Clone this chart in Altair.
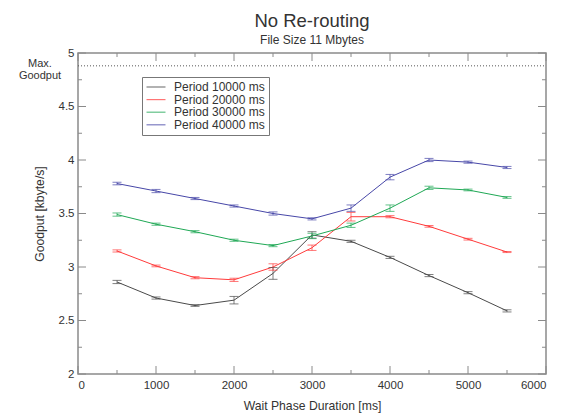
import altair as alt
import pandas as pd

# ---------------- data ----------------
wait_ms = [500, 1000, 1500, 2000, 2500, 3000, 3500, 4000, 4500, 5000, 5500]

series_names = ["Period 10000 ms", "Period 20000 ms", "Period 30000 ms", "Period 40000 ms"]
series_colors = ["#4a4a4a", "#ff3b3b", "#1fa855", "#4747a8"]

goodput_10000 = [2.86, 2.71, 2.64, 2.69, 2.94, 3.30, 3.24, 3.09, 2.92, 2.76, 2.59]
err_10000 = [0.015, 0.01, 0.008, 0.035, 0.055, 0.03, 0.01, 0.01, 0.01, 0.01, 0.01]

goodput_20000 = [3.15, 3.01, 2.90, 2.88, 3.00, 3.18, 3.47, 3.47, 3.38, 3.26, 3.14]
err_20000 = [0.01, 0.008, 0.01, 0.015, 0.03, 0.025, 0.04, 0.01, 0.008, 0.008, 0.005]

goodput_30000 = [3.49, 3.40, 3.33, 3.25, 3.20, 3.29, 3.39, 3.55, 3.74, 3.72, 3.65]
err_30000 = [0.015, 0.01, 0.01, 0.01, 0.01, 0.025, 0.02, 0.03, 0.015, 0.008, 0.008]

goodput_40000 = [3.78, 3.71, 3.64, 3.57, 3.50, 3.45, 3.55, 3.84, 4.00, 3.98, 3.93]
err_40000 = [0.012, 0.015, 0.01, 0.01, 0.015, 0.01, 0.03, 0.025, 0.015, 0.01, 0.01]

max_goodput = [4.88]
max_goodput_label = "Max.\nGoodput"

x_major_ticks = [0, 1000, 2000, 3000, 4000, 5000, 6000]
x_minor_ticks = [500, 1500, 2500, 3500, 4500, 5500]
y_major_ticks = [2, 2.5, 3, 3.5, 4, 4.5, 5]
y_minor_ticks = [2.25, 2.75, 3.25, 3.75, 4.25, 4.75]

# ---------------- table ----------------
rows = []
for name, vals, errs in zip(
    series_names,
    [goodput_10000, goodput_20000, goodput_30000, goodput_40000],
    [err_10000, err_20000, err_30000, err_40000],
):
    for w, v, e in zip(wait_ms, vals, errs):
        rows.append({"series": name, "wait": w, "value": v, "lo": v - e, "hi": v + e})
df = pd.DataFrame(rows)

W, H = 468, 321
FONT = "Liberation Sans"
TXT = "#333333"
FRAME = "#8a8a8a"

xscale = alt.Scale(domain=[0, 6000], nice=False, zero=False)
yscale = alt.Scale(domain=[2, 5], nice=False, zero=False)

xaxis = alt.Axis(
    values=x_major_ticks,
    format="d",
    ticks=False,
    domain=False,
    grid=False,
    labelPadding=5,
    labelFontSize=11.5,
    labelFont=FONT,
    labelColor=TXT,
    title="Wait Phase Duration [ms]",
    titleFont=FONT,
    titleFontSize=12.2,
    titleFontWeight="normal",
    titleColor=TXT,
    titlePadding=9,
)
yaxis = alt.Axis(
    values=y_major_ticks,
    format=".1~f",
    ticks=False,
    domain=False,
    grid=False,
    labelPadding=4,
    labelFontSize=11.5,
    labelFont=FONT,
    labelColor=TXT,
    title="Goodput [kbyte/s]",
    titleFont=FONT,
    titleFontSize=12.2,
    titleFontWeight="normal",
    titleColor=TXT,
    titlePadding=12,
)


def X(field):
    return alt.X(field, scale=xscale, axis=xaxis)


def Y(field):
    return alt.Y(field, scale=yscale, axis=yaxis)


cscale = alt.Scale(domain=series_names, range=series_colors)
color = alt.Color(
    "series:N",
    scale=cscale,
    legend=alt.Legend(
        title=None,
        orient="none",
        legendX=64,
        legendY=24,
        direction="vertical",
        symbolType="M-2,0H2",
        symbolSize=90,
        symbolStrokeWidth=1.2,
        symbolOffset=4,
        labelFontSize=12,
        labelFont=FONT,
        labelColor=TXT,
        rowPadding=0.6,
        strokeColor="#777777",
        fillColor="white",
        padding=4,
        labelOffset=12,
    ),
)

base = alt.Chart(df)

lines = base.mark_line(strokeWidth=1).encode(x=X("wait:Q"), y=Y("value:Q"), color=color)

err_bars = base.mark_rule(strokeWidth=1, opacity=0.7).encode(
    x=X("wait:Q"), y=Y("lo:Q"), y2="hi:Q", color=color
)
caps_lo = base.mark_tick(orient="horizontal", size=9, thickness=1, opacity=0.7).encode(
    x=X("wait:Q"), y=Y("lo:Q"), color=color
)
caps_hi = base.mark_tick(orient="horizontal", size=9, thickness=1, opacity=0.7).encode(
    x=X("wait:Q"), y=Y("hi:Q"), color=color
)

maxdf = pd.DataFrame({"m": max_goodput, "label": [max_goodput_label]})
max_line = alt.Chart(maxdf).mark_rule(color="#555555", strokeDash=[1, 2], strokeWidth=1).encode(
    y=Y("m:Q"), x=alt.value(0), x2=alt.value(W)
)
max_text = alt.Chart(maxdf).mark_text(
    align="center", baseline="middle", fontSize=11, font=FONT, color=TXT, lineBreak="\n", lineHeight=12, dy=-2
).encode(y=Y("m:Q"), x=alt.value(-38), text="label:N")


# ---------------- inside ticks ----------------
def xticks(vals, length):
    d = pd.DataFrame({"t": vals})
    bottom = alt.Chart(d).mark_rule(color=FRAME, strokeWidth=1).encode(
        x=X("t:Q"), y=alt.value(H), y2=alt.value(H - length)
    )
    top = alt.Chart(d).mark_rule(color=FRAME, strokeWidth=1).encode(
        x=X("t:Q"), y=alt.value(0), y2=alt.value(length)
    )
    return [bottom, top]


def yticks(vals, length):
    d = pd.DataFrame({"t": vals})
    left = alt.Chart(d).mark_rule(color=FRAME, strokeWidth=1).encode(
        y=Y("t:Q"), x=alt.value(0), x2=alt.value(length)
    )
    right = alt.Chart(d).mark_rule(color=FRAME, strokeWidth=1).encode(
        y=Y("t:Q"), x=alt.value(W), x2=alt.value(W - length)
    )
    return [left, right]


tick_layers = xticks(x_major_ticks, 8) + xticks(x_minor_ticks, 4) + yticks(y_major_ticks, 8) + yticks(y_minor_ticks, 4)

chart = (
    alt.layer(lines, *tick_layers, max_line, max_text, err_bars, caps_lo, caps_hi)
    .properties(
        width=W,
        height=H,
        title=alt.TitleParams(
            "No Re-routing",
            subtitle="File Size 11 Mbytes",
            font=FONT,
            fontSize=18.5,
            fontWeight="normal",
            color=TXT,
            subtitleFont=FONT,
            subtitleFontSize=12,
            subtitleColor=TXT,
            subtitlePadding=5,
            anchor="middle",
            frame="group",
            offset=1,
        ),
        autosize=alt.AutoSizeParams(type="none"),
        padding={"left": 70, "top": 45, "right": 4, "bottom": 42},
    )
    .configure_view(stroke=FRAME, strokeWidth=1.5)
)

chart.save("out.html", embed_options={"renderer": "svg", "actions": False})
